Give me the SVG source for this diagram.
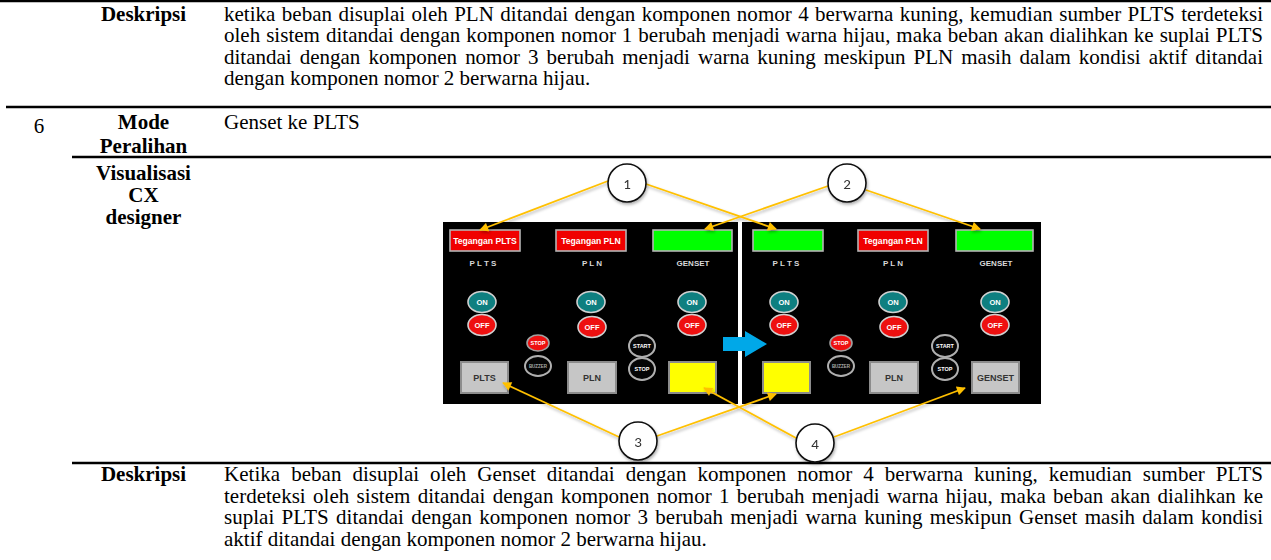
<svg xmlns="http://www.w3.org/2000/svg" width="1271" height="560" viewBox="0 0 1271 560">
<style>
.rule{stroke:#000;stroke-width:2.4}
.ser{font-family:"Liberation Serif","Times New Roman",serif;font-size:21px;fill:#000}
.bold{font-weight:bold}
.mid{text-anchor:middle}
.ind{stroke:#b4b4b4;stroke-width:1.6}
.red{fill:#f00000}
.grn{fill:#00ff00}
.yel{fill:#ffff00}
.gry{fill:#c6c6c6}
.pt{font-family:"Liberation Sans",Arial,sans-serif;font-weight:bold;text-anchor:middle}
.w8{font-size:8.6px;fill:#fff}
.lab{font-size:8px;fill:#d8d8d8}
.btn{font-size:9px;fill:#333}
.on{fill:#0e7f80;stroke:#d0d0d0;stroke-width:1.6}
.off{fill:#ee1010;stroke:#d0d0d0;stroke-width:1.6}
.blk{fill:#050505;stroke:#b0b0b0;stroke-width:2}
.sred{fill:#ee1010;stroke:#a0a0a0;stroke-width:1.6}
.bt{font-size:7.5px;fill:#fff}
.st{font-size:5.5px;fill:#fff}
.bz{font-size:4.5px;fill:#aaa}
.gbtn{stroke:#8c8c8c;stroke-width:2}
.con{stroke:#ffc000;stroke-width:1.8;fill:none;marker-end:url(#ah)}
.circ{fill:#fff;stroke:#111;stroke-width:1.6}
.num{font-family:Carlito,"Liberation Sans",Arial,sans-serif;font-size:15px;fill:#333;text-anchor:middle}
</style>
<defs>
<marker id="ah" viewBox="0 0 10 10" refX="9" refY="5" markerWidth="11" markerHeight="9" markerUnits="userSpaceOnUse" orient="auto">
<path d="M0,0 L10,5 L0,10 z" fill="#ffc000"/>
</marker>
<filter id="sh" x="-20%" y="-20%" width="140%" height="140%">
<feDropShadow dx="1" dy="2" stdDeviation="1.5" flood-color="#000" flood-opacity="0.3"/>
</filter>
</defs>
<rect width="1271" height="560" fill="#fff"/>

<g id="table-lines">
<line class="rule" x1="0" y1="1" x2="1271" y2="1"/>
<line class="rule" x1="6" y1="107" x2="1271" y2="107"/>
<line class="rule" x1="72" y1="157" x2="1271" y2="157"/>
<line class="rule" x1="72" y1="463" x2="1271" y2="463"/>
</g>

<g id="row-desc-top">
<text class="ser bold mid" x="143.5" y="20.5">Deskripsi</text>
<text class="ser" x="224" y="20.5" word-spacing="1.1" textLength="1039" lengthAdjust="spacing">ketika beban disuplai oleh PLN ditandai dengan komponen nomor 4 berwarna kuning, kemudian sumber PLTS terdeteksi</text>
<text class="ser" x="224" y="42" word-spacing="0.65" textLength="1039" lengthAdjust="spacing">oleh sistem ditandai dengan komponen nomor 1 berubah menjadi warna hijau, maka beban akan dialihkan ke suplai PLTS</text>
<text class="ser" x="224" y="63.5" word-spacing="2.8" textLength="1039" lengthAdjust="spacing">ditandai dengan komponen nomor 3 berubah menjadi warna kuning meskipun PLN masih dalam kondisi aktif ditandai</text>
<text class="ser" x="224" y="85">dengan komponen nomor 2 berwarna hijau.</text>
</g>

<g id="row-mode">
<text class="ser mid" x="39" y="133" font-size="22">6</text>
<text class="ser bold mid" x="143.5" y="129">Mode</text>
<text class="ser bold mid" x="143.5" y="153">Peralihan</text>
<text class="ser" x="224" y="129">Genset ke PLTS</text>
</g>

<g id="row-visual">
<text class="ser bold mid" x="143.5" y="180">Visualisasi</text>
<text class="ser bold mid" x="143.5" y="202">CX</text>
<text class="ser bold mid" x="143.5" y="224">designer</text>
</g>

<g id="hmi-background">
<rect x="443" y="222" width="598" height="182" fill="#000"/>
<rect x="738" y="222" width="4" height="182" fill="#fff"/>
</g>

<g id="panel-before">
<rect class="ind red" x="450" y="230" width="70" height="21"/>
<text class="pt w8" x="485" y="243.8">Tegangan PLTS</text>
<rect class="ind red" x="556" y="230" width="70" height="21"/>
<text class="pt w8" x="591" y="243.8">Tegangan PLN</text>
<rect class="ind grn" x="653" y="230" width="79" height="21"/>
<text class="pt lab" x="483" y="266">P L T S</text>
<text class="pt lab" x="592" y="266">P L N</text>
<text class="pt lab" x="693" y="266">GENSET</text>
<ellipse class="on" cx="482" cy="302" rx="14" ry="10.5"/><text class="pt bt" x="482" y="304.7">ON</text>
<ellipse class="on" cx="591" cy="302" rx="14" ry="10.5"/><text class="pt bt" x="591" y="304.7">ON</text>
<ellipse class="on" cx="692" cy="302" rx="14" ry="10.5"/><text class="pt bt" x="692" y="304.7">ON</text>
<ellipse class="off" cx="482" cy="325" rx="14" ry="10.5"/><text class="pt bt" x="482" y="327.7">OFF</text>
<ellipse class="off" cx="592" cy="327" rx="14" ry="10.5"/><text class="pt bt" x="592" y="329.7">OFF</text>
<ellipse class="off" cx="692" cy="325" rx="14" ry="10.5"/><text class="pt bt" x="692" y="327.7">OFF</text>
<ellipse class="sred" cx="538" cy="343" rx="11" ry="8"/><text class="pt st" x="538" y="345">STOP</text>
<ellipse class="blk" cx="538" cy="366" rx="13" ry="10"/><text class="pt bz" x="538" y="367.6">BUZZER</text>
<ellipse class="blk" cx="642" cy="346" rx="13" ry="11"/><text class="pt st" x="642" y="348">START</text>
<ellipse class="blk" cx="642" cy="369" rx="13" ry="11"/><text class="pt st" x="642" y="371">STOP</text>
<rect class="gbtn gry" x="461" y="362" width="47" height="31"/><text class="pt btn" x="484.5" y="380.8">PLTS</text>
<rect class="gbtn gry" x="568" y="362" width="48" height="31"/><text class="pt btn" x="592" y="380.8">PLN</text>
<rect class="gbtn yel" x="669" y="362" width="47" height="31"/>
</g>

<g id="transition-arrow">
<polygon points="723,337 745,337 745,331 767,344 745,357 745,351 723,351" fill="#00a8e8"/>
</g>

<g id="panel-after">
<rect class="ind grn" x="753" y="230" width="70" height="21"/>
<rect class="ind red" x="858" y="230" width="70" height="21"/>
<text class="pt w8" x="893" y="243.8">Tegangan PLN</text>
<rect class="ind grn" x="956" y="230" width="77" height="21"/>
<text class="pt lab" x="786" y="266">P L T S</text>
<text class="pt lab" x="893" y="266">P L N</text>
<text class="pt lab" x="996" y="266">GENSET</text>
<ellipse class="on" cx="784" cy="302" rx="14" ry="10.5"/><text class="pt bt" x="784" y="304.7">ON</text>
<ellipse class="on" cx="893" cy="302" rx="14" ry="10.5"/><text class="pt bt" x="893" y="304.7">ON</text>
<ellipse class="on" cx="995" cy="302" rx="14" ry="10.5"/><text class="pt bt" x="995" y="304.7">ON</text>
<ellipse class="off" cx="784" cy="325" rx="14" ry="10.5"/><text class="pt bt" x="784" y="327.7">OFF</text>
<ellipse class="off" cx="894" cy="327" rx="14" ry="10.5"/><text class="pt bt" x="894" y="329.7">OFF</text>
<ellipse class="off" cx="995" cy="325" rx="14" ry="10.5"/><text class="pt bt" x="995" y="327.7">OFF</text>
<ellipse class="sred" cx="841" cy="343" rx="11" ry="8"/><text class="pt st" x="841" y="345">STOP</text>
<ellipse class="blk" cx="841" cy="366" rx="13" ry="10"/><text class="pt bz" x="841" y="367.6">BUZZER</text>
<ellipse class="blk" cx="945" cy="346" rx="13" ry="11"/><text class="pt st" x="945" y="348">START</text>
<ellipse class="blk" cx="945" cy="369" rx="13" ry="11"/><text class="pt st" x="945" y="371">STOP</text>
<rect class="gbtn yel" x="763" y="362" width="47" height="31"/>
<rect class="gbtn gry" x="870" y="362" width="48" height="31"/><text class="pt btn" x="894" y="380.8">PLN</text>
<rect class="gbtn gry" x="972" y="362" width="47" height="31"/><text class="pt btn" x="995.5" y="380.8">GENSET</text>
</g>

<g id="connectors" filter="url(#sh)">
<line class="con" x1="608" y1="181" x2="480" y2="230"/>
<line class="con" x1="646" y1="184" x2="776" y2="229"/>
<line class="con" x1="828" y1="186" x2="705" y2="229"/>
<line class="con" x1="866" y1="190" x2="980" y2="229"/>
<line class="con" x1="619" y1="437" x2="503" y2="383"/>
<line class="con" x1="657" y1="436" x2="776" y2="394"/>
<line class="con" x1="796" y1="438" x2="704" y2="388"/>
<line class="con" x1="834" y1="437" x2="965" y2="388"/>
</g>

<g id="callout-1" filter="url(#sh)"><circle class="circ" cx="627" cy="183" r="19"/><text class="num" x="627" y="188.5">1</text></g>
<g id="callout-2" filter="url(#sh)"><circle class="circ" cx="847" cy="183" r="19"/><text class="num" x="847" y="188.5">2</text></g>
<g id="callout-3" filter="url(#sh)"><circle class="circ" cx="638" cy="441" r="19"/><text class="num" x="638" y="446.5">3</text></g>
<g id="callout-4" filter="url(#sh)"><circle class="circ" cx="815" cy="443" r="19"/><text class="num" x="815" y="448.5">4</text></g>

<g id="row-desc-bottom">
<text class="ser bold mid" x="143.5" y="481">Deskripsi</text>
<text class="ser" x="224" y="481" word-spacing="5.7" textLength="1039" lengthAdjust="spacing">Ketika beban disuplai oleh Genset ditandai dengan komponen nomor 4 berwarna kuning, kemudian sumber PLTS</text>
<text class="ser" x="224" y="502.5" word-spacing="2.1" textLength="1039" lengthAdjust="spacing">terdeteksi oleh sistem ditandai dengan komponen nomor 1 berubah menjadi warna hijau, maka beban akan dialihkan ke</text>
<text class="ser" x="224" y="524" word-spacing="2" textLength="1039" lengthAdjust="spacing">suplai PLTS ditandai dengan komponen nomor 3 berubah menjadi warna kuning meskipun Genset masih dalam kondisi</text>
<text class="ser" x="224" y="545.5">aktif ditandai dengan komponen nomor 2 berwarna hijau.</text>
</g>
</svg>
